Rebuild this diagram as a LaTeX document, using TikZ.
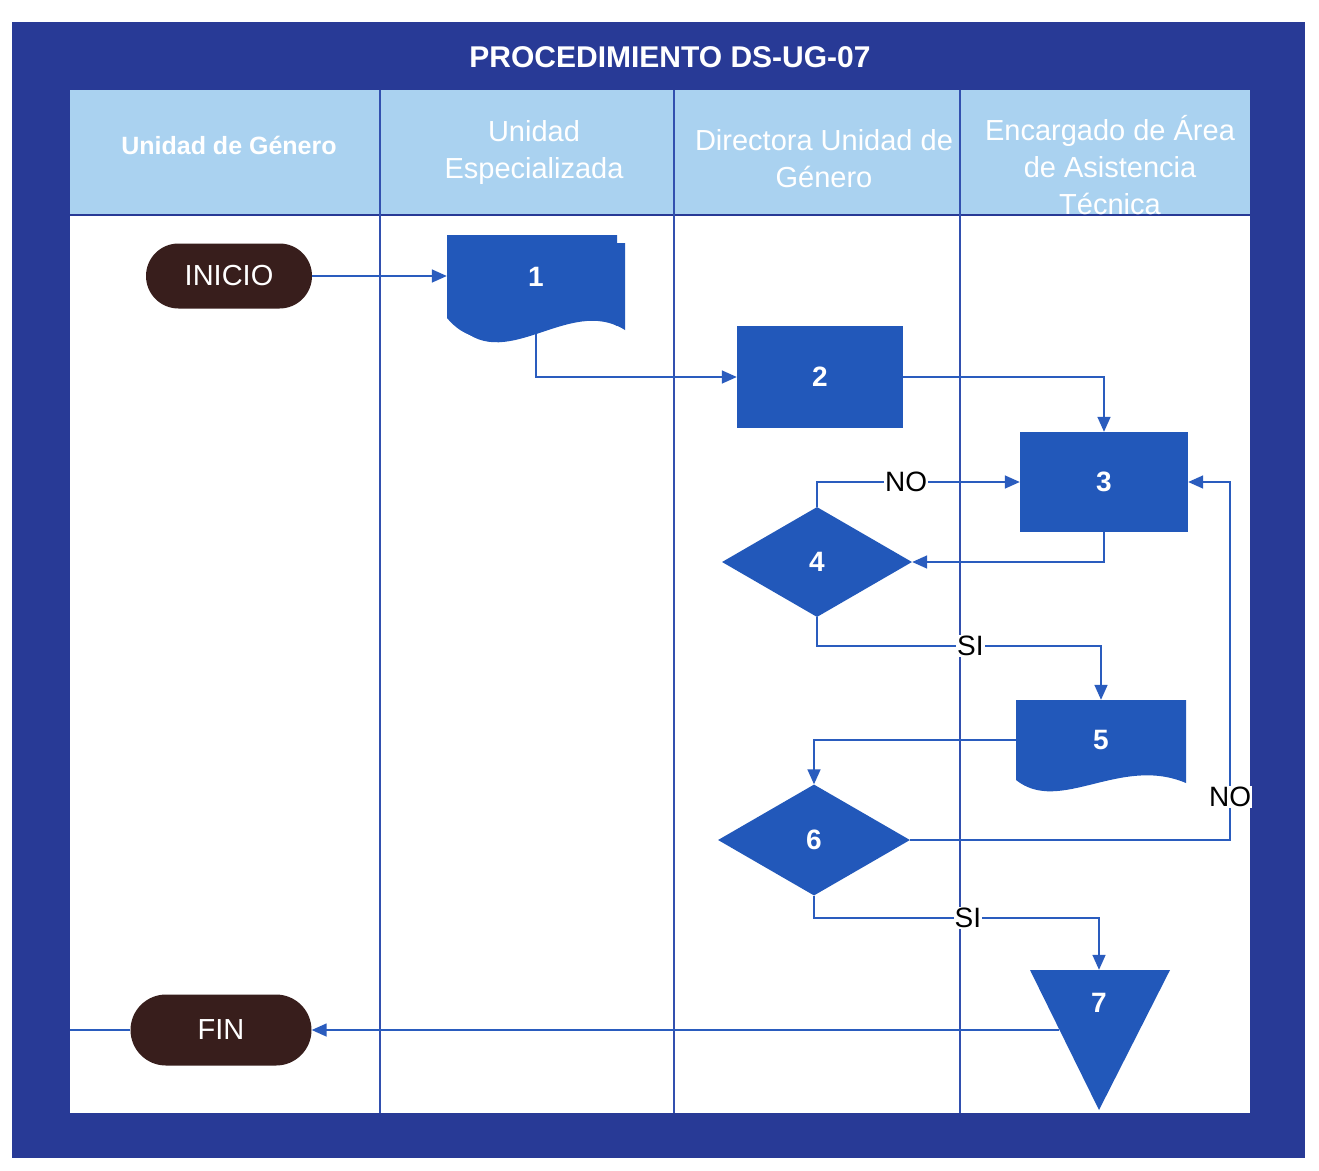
\documentclass[tikz,border=0pt]{standalone}
\usepackage{fontspec}
\setmainfont{Liberation Sans}
\usetikzlibrary{arrows.meta,shapes.geometric,shapes.misc}
\pgfdeclarelayer{lanes}
\pgfdeclarelayer{wires}
\pgfsetlayers{lanes,wires,main}

\definecolor{framecol}{RGB}{40,58,150}
\definecolor{headcol}{RGB}{170,210,240}
\definecolor{shapecol}{RGB}{34,88,186}
\definecolor{wirecol}{RGB}{42,92,190}
\definecolor{lanecol}{RGB}{50,80,175}
\definecolor{termcol}{RGB}{56,30,28}

\tikzset{
  flow/.style={draw=wirecol, line width=1.6pt, -{Triangle[length=15pt,width=13pt]}},
  wire/.style={draw=wirecol, line width=1.6pt},
  lbl/.style={fill=white, text=black, inner sep=1pt, font=\fontsize{28}{30}\selectfont},
  term/.style={rounded rectangle, fill=termcol, text=white, inner sep=0pt,
    font=\fontsize{29}{32}\selectfont},
  proc/.style={rectangle, fill=shapecol, text=white, inner sep=0pt,
    font=\bfseries\fontsize{28}{30}\selectfont},
  decis/.style={diamond, fill=shapecol, text=white, inner sep=0pt,
    font=\bfseries\fontsize{28}{30}\selectfont},
  docbox/.style={rectangle, text=white, inner sep=0pt,
    font=\bfseries\fontsize{28}{30}\selectfont},
  lanehead/.style={text=white, align=center, font=\fontsize{29}{37}\selectfont},
  lanerule/.style={draw=lanecol, line width=1.4pt},
}

\begin{document}
\begin{tikzpicture}[x=1pt,y=-1pt]
\useasboundingbox (0,0) rectangle (1319,1170);

% frame, header band and swimlanes
\begin{pgfonlayer}{lanes}
  \fill[white] (0,0) rectangle (1319,1170);
  \fill[framecol] (12,22) rectangle (1305,1158);
  \fill[headcol] (70,90) rectangle (1250,215);
  \fill[white] (70,215) rectangle (1250,1113);
  \draw[framecol, line width=2pt] (70,215) -- (1250,215);
  \draw[lanerule] (380,90) -- (380,1113);
  \draw[lanerule] (674,90) -- (674,1113);
  \draw[lanerule] (960,90) -- (960,1113);
\end{pgfonlayer}

% title and lane headings
\node[text=white, font=\bfseries\fontsize{30}{32}\selectfont] (title) at (670,57) {PROCEDIMIENTO DS-UG-07};
\node[lanehead, font=\bfseries\fontsize{25}{30}\selectfont] (h1) at (229,145) {Unidad de Género};
\node[lanehead] (h2) at (534,152) {Unidad\\Especializada};
\node[lanehead] (h3) at (824,159) {Directora Unidad de\\Género};
\node[lanehead] (h4) at (1110,165) {Encargado de Área\\de Asistencia\\Técnica};

% document outlines (stacked document 1, document 5) and the off-page triangle 7
\fill[shapecol] (455,243) -- (625,243) -- (625,330) .. controls (568,294) and (503,379) .. (455,322) -- cycle;
\fill[shapecol] (447,235) -- (617,235) -- (617,326) .. controls (560,290) and (495,375) .. (447,318) -- cycle;
\fill[shapecol] (1016,700) -- (1186,700) -- (1186,783) .. controls (1120,755) and (1060,815) .. (1016,780) -- cycle;
\fill[shapecol] (1030,970) -- (1170,970) -- (1099,1110) -- cycle;

% flow nodes
\node[term, minimum width=166pt, minimum height=65pt] (ini) at (229,276) {INICIO};
\node[docbox, minimum width=178pt, minimum height=85pt] (d1) at (536,277) {1};
\node[proc, minimum width=166pt, minimum height=102pt] (d2) at (820,377) {2};
\node[proc, minimum width=168pt, minimum height=100pt] (d3) at (1104,482) {3};
\node[decis, minimum width=190pt, minimum height=110pt] (d4) at (817,562) {4};
\node[docbox, minimum width=170pt, minimum height=80pt] (d5) at (1101,740) {5};
\node[decis, minimum width=192pt, minimum height=111pt] (d6) at (814,840) {6};
\node[docbox, minimum width=60pt, minimum height=66pt] (d7) at (1099,1003) {7};
\node[term, minimum width=181pt, minimum height=71pt] (fin) at (221,1030) {FIN};
\coordinate (t7l) at (1059,1030);
\coordinate (leftin) at (70,1030);

% connectors
\begin{pgfonlayer}{wires}
  \draw[flow] (ini.east) -- (ini.east -| d1.west);
  \draw[flow] (d1.south) |- (d2.west);
  \draw[flow] (d2.east) -| (d3.north);
  \draw[flow] (d3.south) |- (d4.east);
  \draw[flow] (d4.north) |- node[lbl, pos=0.72] {NO} (d3.west);
  \draw[flow] (d4.south) -- ++(0,29) -| node[lbl, pos=0.27] {SI} (d5.north);
  \draw[flow] (d5.west) -| (d6.north);
  \draw[flow] (d6.east) -| node[lbl, pos=0.56] {NO} ([xshift=42pt]d3.east) -- (d3.east);
  \draw[flow] (d6.south) -- ++(0,22) -| node[lbl, pos=0.27] {SI} (d7.north);
  \draw[flow] (t7l) -- (fin.east);
  \draw[wire] (fin.west) -- (leftin);
\end{pgfonlayer}
\end{tikzpicture}
\end{document}
